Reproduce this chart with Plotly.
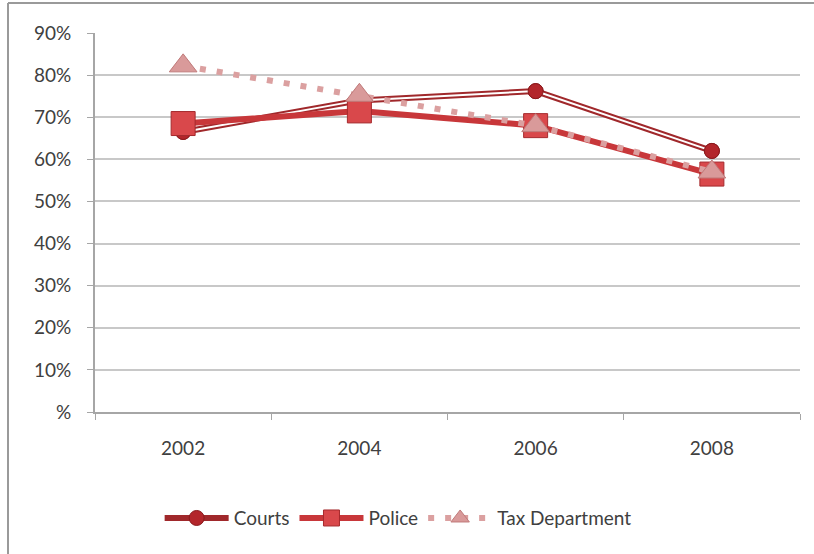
import plotly.graph_objects as go

years = ["2002", "2004", "2006", "2008"]
courts = [0.665, 0.74, 0.762, 0.62]
police = [0.685, 0.715, 0.68, 0.565]
tax = [0.822, 0.752, 0.68, 0.57]

ytick_vals = [0, 0.1, 0.2, 0.3, 0.4, 0.5, 0.6, 0.7, 0.8, 0.9]
ytick_text = ["%", "10%", "20%", "30%", "40%", "50%", "60%", "70%", "80%", "90%"]

FONT = "Lato, 'Open Sans', sans-serif"
DARK = "#a0282b"
RED = "#c8373a"
PINK = "#dba0a0"

fig = go.Figure()

# Courts: double line (dark outline + white core)
fig.add_trace(go.Scatter(x=years, y=courts, name="Courts", mode="lines+markers",
                         legendgroup="c",
                         line=dict(color=DARK, width=6),
                         marker=dict(symbol="circle", size=15, color="#b3262b",
                                     line=dict(color="#8a1a1d", width=1))))
fig.add_trace(go.Scatter(x=years, y=courts, mode="lines", showlegend=False,
                         legendgroup="c", hoverinfo="skip",
                         line=dict(color="white", width=2)))
fig.add_trace(go.Scatter(x=years, y=courts, mode="markers", showlegend=False,
                         legendgroup="c", hoverinfo="skip",
                         marker=dict(symbol="circle", size=15, color="#b3262b",
                                     line=dict(color="#8a1a1d", width=1))))
# Police
fig.add_trace(go.Scatter(x=years, y=police, name="Police", mode="lines+markers",
                         line=dict(color=RED, width=6),
                         marker=dict(symbol="square", size=24, color="#d9484b",
                                     line=dict(color="#a52a2d", width=1))))
# Tax Department
fig.add_trace(go.Scatter(x=years, y=tax, name="Tax Department", mode="lines+markers",
                         line=dict(color=PINK, width=6, dash="6px,11px"),
                         marker=dict(symbol="triangle-up", size=24, color="#d99a9a",
                                     line=dict(color="#c07a7a", width=1))))

fig.update_layout(
    width=814, height=554,
    paper_bgcolor="white", plot_bgcolor="white",
    margin=dict(l=95, r=14, t=33, b=142),
    font=dict(family=FONT, size=19, color="#404040"),
    showlegend=True,
    legend=dict(orientation="h", x=0.43, xanchor="center", y=-0.28, yanchor="middle",
                font=dict(size=19, color="#404040"), itemwidth=64,
                traceorder="normal"),
    xaxis=dict(type="category", tickson="boundaries", ticks="outside", ticklen=6,
               tickcolor="#a6a6a6", showline=True, linecolor="#a6a6a6", linewidth=2,
               showgrid=False, tickfont=dict(size=19, color="#404040"),
               ticklabelstandoff=18,
               range=[-0.5, 3.5], fixedrange=True),
    yaxis=dict(range=[0, 0.9], tickvals=ytick_vals, ticktext=ytick_text,
               ticks="outside", ticklen=6, tickcolor="#a6a6a6",
               showline=True, linecolor="#a6a6a6", linewidth=2,
               showgrid=True, gridcolor="#c8c8c8", gridwidth=2,
               ticklabelstandoff=12,
               zeroline=False, tickfont=dict(size=19, color="#404040")),
    shapes=[
        dict(type="line", xref="paper", yref="paper", x0=-0.1234, x1=-0.1234,
             y0=1.079, y1=-0.38, line=dict(color="#9a9a9a", width=2)),
        dict(type="line", xref="paper", yref="paper", x0=-0.1234, x1=1.04,
             y0=1.079, y1=1.079, line=dict(color="#9a9a9a", width=2)),
    ],
)

fig.write_html("out.html", config={"displayModeBar": False},
               post_script="document.body.style.margin='0px';")
